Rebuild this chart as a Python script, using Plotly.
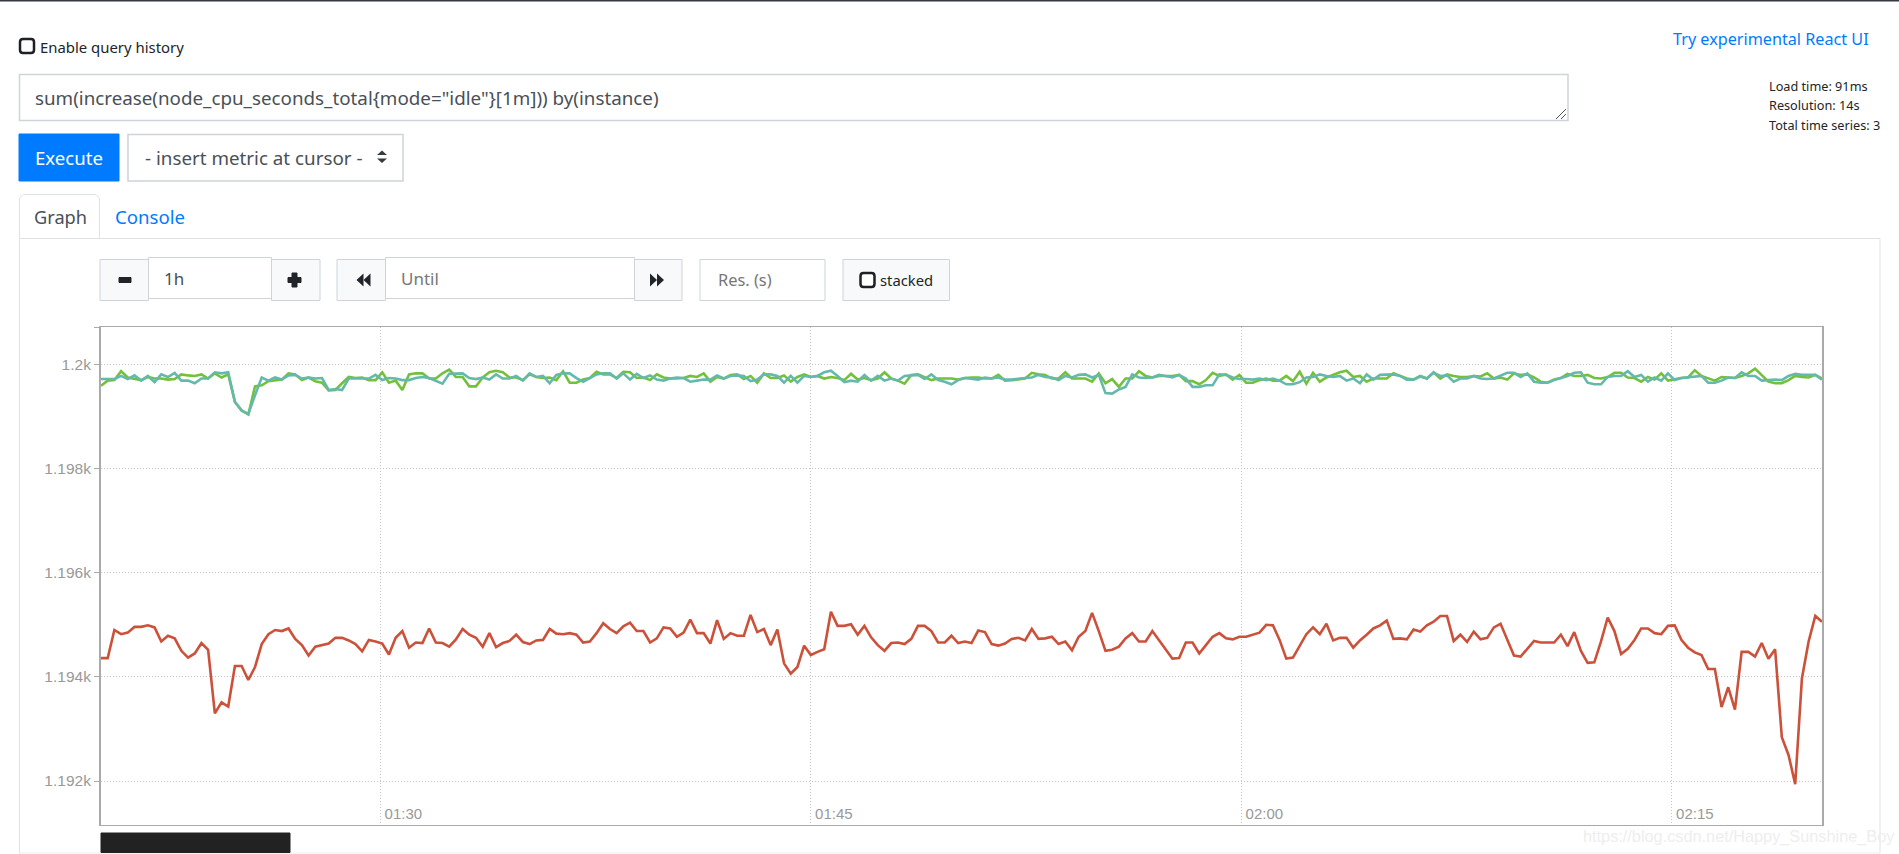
"""Prometheus graph page: sum(increase(node_cpu_seconds_total)) by instance."""

import pandas as pd
import plotly.graph_objects as go

WIDTH = 1899
HEIGHT = 854
UI_FONT = "Noto Sans"
AXIS_FONT = "Liberation Sans"

series_start = "2020-01-01 01:20:16"
step_seconds = 14

red_values = [
    1194.36, 1194.36, 1194.90, 1194.82, 1194.85, 1194.96, 1194.96, 1194.99, 1194.95, 1194.68,
    1194.79, 1194.74, 1194.50, 1194.37, 1194.45, 1194.65, 1194.52, 1193.30, 1193.51, 1193.43,
    1194.21, 1194.21, 1193.94, 1194.19, 1194.63, 1194.82, 1194.90, 1194.88, 1194.93, 1194.73,
    1194.61, 1194.41, 1194.58, 1194.61, 1194.64, 1194.75, 1194.75, 1194.70, 1194.63, 1194.49,
    1194.71, 1194.68, 1194.64, 1194.43, 1194.75, 1194.88, 1194.56, 1194.66, 1194.65, 1194.93,
    1194.66, 1194.65, 1194.58, 1194.72, 1194.92, 1194.81, 1194.75, 1194.58, 1194.84, 1194.57,
    1194.65, 1194.69, 1194.81, 1194.67, 1194.63, 1194.70, 1194.71, 1194.92, 1194.83,
    1194.82, 1194.84, 1194.81, 1194.66, 1194.68, 1194.84, 1195.03, 1194.92, 1194.84, 1194.97,
    1195.04, 1194.88, 1194.88, 1194.66, 1194.74, 1194.95, 1194.93, 1194.77, 1194.85, 1195.10,
    1194.84, 1194.84, 1194.64, 1195.09, 1194.73, 1194.84, 1194.79, 1194.79, 1195.19, 1194.86,
    1194.92, 1194.61, 1194.91, 1194.26, 1194.06, 1194.19, 1194.60, 1194.42, 1194.48, 1194.53,
    1195.25, 1194.98, 1194.98, 1195.01, 1194.81, 1194.98, 1194.76, 1194.61, 1194.50, 1194.65,
    1194.66, 1194.63, 1194.73, 1194.98, 1194.98, 1194.88, 1194.66, 1194.66, 1194.79, 1194.65,
    1194.68, 1194.65, 1194.89, 1194.86, 1194.63, 1194.60, 1194.64, 1194.73, 1194.75, 1194.70,
    1194.92, 1194.73,
    1194.74, 1194.77, 1194.63, 1194.68, 1194.51, 1194.77, 1194.88, 1195.23, 1194.88, 1194.50,
    1194.52, 1194.58, 1194.74, 1194.84, 1194.68, 1194.68, 1194.88, 1194.71, 1194.53, 1194.35,
    1194.36, 1194.66, 1194.66, 1194.45, 1194.61, 1194.77, 1194.84, 1194.74, 1194.72, 1194.77,
    1194.77, 1194.81, 1194.85, 1195.00, 1194.99, 1194.71, 1194.35, 1194.37, 1194.59, 1194.82,
    1194.95, 1194.82, 1195.02, 1194.70, 1194.75, 1194.75, 1194.56, 1194.70, 1194.81, 1194.93,
    1194.99, 1195.08, 1194.73, 1194.74, 1194.72, 1194.91, 1194.87, 1194.99, 1195.06, 1195.17,
    1195.17, 1194.69, 1194.81, 1194.67, 1194.87, 1194.72, 1194.75, 1194.95, 1195.02,
    1194.70, 1194.41, 1194.39, 1194.55, 1194.69, 1194.66, 1194.66, 1194.66, 1194.81, 1194.59,
    1194.86, 1194.50, 1194.27, 1194.28, 1194.68, 1195.14, 1194.88, 1194.44, 1194.54, 1194.71,
    1194.93, 1194.93, 1194.84, 1194.82, 1194.98, 1194.99, 1194.71, 1194.56, 1194.47, 1194.42,
    1194.15, 1194.15, 1193.42, 1193.80, 1193.37, 1194.48, 1194.48, 1194.39, 1194.65, 1194.35,
    1194.53, 1192.84, 1192.50, 1191.94, 1193.97, 1194.68, 1195.17, 1195.06,
]

green_values = [
    1199.59, 1199.69, 1199.70, 1199.87, 1199.75, 1199.72, 1199.70, 1199.76, 1199.73, 1199.73,
    1199.71, 1199.72, 1199.81, 1199.79, 1199.78, 1199.81, 1199.73, 1199.83, 1199.75, 1199.81,
    1199.28, 1199.12, 1199.04, 1199.58, 1199.60, 1199.68, 1199.69, 1199.71, 1199.83, 1199.81,
    1199.70, 1199.75, 1199.68, 1199.65, 1199.50, 1199.51, 1199.64, 1199.76, 1199.74, 1199.75,
    1199.70, 1199.70, 1199.85, 1199.65, 1199.69, 1199.51, 1199.81, 1199.83, 1199.83, 1199.73,
    1199.73, 1199.83, 1199.90, 1199.76, 1199.76, 1199.58, 1199.58, 1199.75, 1199.85, 1199.88,
    1199.85, 1199.75, 1199.75, 1199.70, 1199.81, 1199.76, 1199.74, 1199.75, 1199.70,
    1199.87, 1199.65, 1199.65, 1199.71, 1199.74, 1199.86, 1199.81, 1199.81, 1199.74, 1199.86,
    1199.85, 1199.74, 1199.75, 1199.70, 1199.81, 1199.75, 1199.73, 1199.73, 1199.74, 1199.78,
    1199.76, 1199.83, 1199.67, 1199.76, 1199.73, 1199.80, 1199.81, 1199.72, 1199.78, 1199.65,
    1199.83, 1199.74, 1199.74, 1199.79, 1199.67, 1199.76, 1199.81, 1199.76, 1199.78, 1199.73,
    1199.76, 1199.74, 1199.70, 1199.82, 1199.71, 1199.74, 1199.70, 1199.73, 1199.85, 1199.73,
    1199.69, 1199.63, 1199.80, 1199.81, 1199.75, 1199.70, 1199.73, 1199.73, 1199.73, 1199.71,
    1199.74, 1199.75, 1199.75, 1199.73, 1199.73, 1199.80, 1199.69, 1199.70, 1199.71, 1199.73,
    1199.84, 1199.81,
    1199.80, 1199.73, 1199.73, 1199.85, 1199.73, 1199.73, 1199.73, 1199.67, 1199.83, 1199.64,
    1199.72, 1199.57, 1199.73, 1199.73, 1199.87, 1199.78, 1199.75, 1199.78, 1199.78, 1199.78,
    1199.80, 1199.68, 1199.68, 1199.62, 1199.70, 1199.84, 1199.78, 1199.81, 1199.71, 1199.80,
    1199.65, 1199.65, 1199.70, 1199.73, 1199.69, 1199.69, 1199.78, 1199.68, 1199.86, 1199.63,
    1199.84, 1199.67, 1199.75, 1199.80, 1199.85, 1199.88, 1199.76, 1199.78, 1199.67, 1199.73,
    1199.73, 1199.73, 1199.83, 1199.78, 1199.73, 1199.71, 1199.78, 1199.73, 1199.85, 1199.73,
    1199.81, 1199.78, 1199.76, 1199.76, 1199.78, 1199.77, 1199.83, 1199.73, 1199.75,
    1199.71, 1199.83, 1199.80, 1199.81, 1199.75, 1199.67, 1199.65, 1199.71, 1199.74, 1199.82,
    1199.78, 1199.78, 1199.80, 1199.74, 1199.73, 1199.76, 1199.84, 1199.84, 1199.75, 1199.74,
    1199.67, 1199.76, 1199.71, 1199.83, 1199.69, 1199.72, 1199.74, 1199.75, 1199.89, 1199.78,
    1199.73, 1199.69, 1199.76, 1199.75, 1199.74, 1199.78, 1199.83, 1199.92, 1199.80, 1199.67,
    1199.64, 1199.64, 1199.70, 1199.78, 1199.76, 1199.75, 1199.80, 1199.73,
]

teal_values = [
    1199.72, 1199.72, 1199.72, 1199.78, 1199.72, 1199.79, 1199.69, 1199.78, 1199.66, 1199.81,
    1199.76, 1199.84, 1199.69, 1199.69, 1199.64, 1199.73, 1199.73, 1199.85, 1199.83, 1199.85,
    1199.28, 1199.11, 1199.05, 1199.41, 1199.75, 1199.69, 1199.75, 1199.71, 1199.79, 1199.80,
    1199.73, 1199.75, 1199.73, 1199.74, 1199.51, 1199.53, 1199.51, 1199.73, 1199.73, 1199.73,
    1199.73, 1199.80, 1199.70, 1199.74, 1199.73, 1199.70, 1199.70, 1199.74, 1199.76, 1199.74,
    1199.68, 1199.63, 1199.82, 1199.83, 1199.83, 1199.74, 1199.72, 1199.75, 1199.71, 1199.81,
    1199.73, 1199.73, 1199.78, 1199.69, 1199.83, 1199.76, 1199.78, 1199.64, 1199.80,
    1199.83, 1199.83, 1199.74, 1199.67, 1199.74, 1199.81, 1199.83, 1199.83, 1199.73, 1199.83,
    1199.71, 1199.82, 1199.74, 1199.79, 1199.71, 1199.69, 1199.73, 1199.75, 1199.74, 1199.67,
    1199.69, 1199.71, 1199.71, 1199.79, 1199.73, 1199.78, 1199.79, 1199.78, 1199.68, 1199.71,
    1199.81, 1199.81, 1199.78, 1199.65, 1199.78, 1199.65, 1199.78, 1199.76, 1199.78, 1199.85,
    1199.88, 1199.78, 1199.66, 1199.69, 1199.67, 1199.80, 1199.69, 1199.78, 1199.69, 1199.73,
    1199.69, 1199.78, 1199.79, 1199.80, 1199.72, 1199.81, 1199.70, 1199.67, 1199.62, 1199.70,
    1199.74, 1199.72, 1199.71, 1199.75, 1199.73, 1199.75, 1199.71, 1199.71, 1199.73, 1199.74,
    1199.75, 1199.80,
    1199.76, 1199.75, 1199.70, 1199.78, 1199.75, 1199.80, 1199.81, 1199.75, 1199.80, 1199.45,
    1199.44, 1199.52, 1199.57, 1199.81, 1199.75, 1199.74, 1199.75, 1199.80, 1199.78, 1199.75,
    1199.80, 1199.73, 1199.57, 1199.57, 1199.60, 1199.60, 1199.81, 1199.80, 1199.75, 1199.72,
    1199.72, 1199.71, 1199.73, 1199.70, 1199.73, 1199.69, 1199.62, 1199.62, 1199.66, 1199.75,
    1199.76, 1199.81, 1199.78, 1199.76, 1199.78, 1199.69, 1199.73, 1199.64, 1199.81, 1199.71,
    1199.80, 1199.80, 1199.81, 1199.78, 1199.71, 1199.71, 1199.77, 1199.73, 1199.84, 1199.78,
    1199.79, 1199.67, 1199.73, 1199.73, 1199.78, 1199.73, 1199.72, 1199.73, 1199.79,
    1199.84, 1199.84, 1199.76, 1199.83, 1199.67, 1199.65, 1199.65, 1199.70, 1199.74, 1199.78,
    1199.84, 1199.85, 1199.65, 1199.62, 1199.62, 1199.76, 1199.78, 1199.78, 1199.87, 1199.76,
    1199.80, 1199.67, 1199.75, 1199.69, 1199.83, 1199.70, 1199.74, 1199.75, 1199.76, 1199.78,
    1199.65, 1199.65, 1199.69, 1199.75, 1199.74, 1199.85, 1199.78, 1199.78, 1199.69, 1199.70,
    1199.71, 1199.70, 1199.78, 1199.82, 1199.80, 1199.80, 1199.80, 1199.71,
]

y_range = [1191.155, 1200.72]
y_ticks = [1191.155, 1192, 1194, 1196, 1198, 1200, 1200.72]
y_tick_labels = ["", "1.192k", "1.194k", "1.196k", "1.198k", "1.2k", ""]
x_ticks = ["2020-01-01 01:30", "2020-01-01 01:45", "2020-01-01 02:00", "2020-01-01 02:15"]

times = pd.date_range(series_start, periods=len(red_values), freq=f"{step_seconds}s")

shapes = []
notes = []


def px(x):
    return x / WIDTH


def py(y):
    return 1 - y / HEIGHT


def rect(x0, y0, x1, y1, fill="#fff", line="#ced4da", width=1):
    shapes.append({
        "type": "rect", "xref": "paper", "yref": "paper", "layer": "below",
        "x0": px(x0), "x1": px(x1), "y0": py(y0), "y1": py(y1),
        "fillcolor": fill, "line": {"color": line, "width": width},
    })


def hline(x0, x1, y, color="#dee2e6", width=1):
    shapes.append({
        "type": "line", "xref": "paper", "yref": "paper", "layer": "below",
        "x0": px(x0), "x1": px(x1), "y0": py(y), "y1": py(y),
        "line": {"color": color, "width": width},
    })


def vline(x, y0, y1, color="#dee2e6", width=1):
    shapes.append({
        "type": "line", "xref": "paper", "yref": "paper", "layer": "below",
        "x0": px(x), "x1": px(x), "y0": py(y0), "y1": py(y1),
        "line": {"color": color, "width": width},
    })


def poly(points, fill="#212529", line=None, width=1, closed=True):
    path = "M " + " L ".join(f"{px(x):.5f},{py(y):.5f}" for x, y in points) + (" Z" if closed else "")
    shapes.append({
        "type": "path", "xref": "paper", "yref": "paper", "layer": "below", "path": path,
        "fillcolor": fill if closed else "rgba(0,0,0,0)",
        "line": {"color": line or fill, "width": width if (line or not closed) else 0},
    })


def checkbox(x0, y0, size=14):
    # small rounded box, same glyph as the browser's unticked checkbox
    x1, y1 = x0 + size, y0 + size
    r = 3
    path = (
        f"M {px(x0 + r)},{py(y0)} L {px(x1 - r)},{py(y0)} Q {px(x1)},{py(y0)} {px(x1)},{py(y0 + r)} "
        f"L {px(x1)},{py(y1 - r)} Q {px(x1)},{py(y1)} {px(x1 - r)},{py(y1)} "
        f"L {px(x0 + r)},{py(y1)} Q {px(x0)},{py(y1)} {px(x0)},{py(y1 - r)} "
        f"L {px(x0)},{py(y0 + r)} Q {px(x0)},{py(y0)} {px(x0 + r)},{py(y0)} Z"
    )
    shapes.append({
        "type": "path", "xref": "paper", "yref": "paper", "layer": "below", "path": path,
        "fillcolor": "#fff", "line": {"color": "#1d2125", "width": 2.5},
    })


def label(x, y, text, size, color="#212529", anchor="left", font=UI_FONT):
    notes.append({
        "x": px(x), "y": py(y), "xref": "paper", "yref": "paper", "text": text,
        "showarrow": False, "xanchor": anchor, "yanchor": "middle", "borderpad": 0,
        "font": {"family": font, "size": size, "color": color},
    })


# page chrome
hline(0, WIDTH, 0.5, color="#343a40", width=2)
checkbox(20, 39)
label(39, 47, "Enable query history", 14.9)
label(1870, 39, "Try experimental React UI", 16.2, color="#007bff", anchor="right")
label(1768, 86, "Load time: 91ms", 12.7)
label(1768, 105.5, "Resolution: 14s", 12.7)
label(1768, 125, "Total time series: 3", 12.7)

# query box
rect(19.5, 74.5, 1568, 120.5, line="#ced4da", width=1.5)
label(34, 98, 'sum(increase(node_cpu_seconds_total{mode="idle"}[1m])) by(instance)', 18.8, color="#495057")
poly([(1556, 119), (1566, 109)], fill="#555", closed=False)
poly([(1561, 119), (1566, 114)], fill="#555", closed=False)

rect(19, 134, 119, 181, fill="#007bff", line="#007bff")
label(69, 157.5, "Execute", 18.6, color="#fff", anchor="center")
rect(128, 134.5, 403, 181, line="#ced4da", width=1.5)
label(144, 157.5, "- insert metric at cursor -", 18.8, color="#495057")
poly([(377, 155), (387, 155), (382, 150.5)], fill="#343a40")
poly([(377, 158.5), (387, 158.5), (382, 163)], fill="#343a40")

# tabs and graph panel
hline(99.5, 1880, 238.5)
vline(19.5, 238.5, 854)
vline(1880, 238.5, 853)
hline(19, 1880, 853, color="#eeeeee")
poly([(19.5, 238.5), (19.5, 198), (23.5, 194.5), (95.5, 194.5), (99.5, 198), (99.5, 238.5)], fill="#fff", line="#dee2e6")
label(33, 216.5, "Graph", 18.2, color="#495057")
label(114, 216.5, "Console", 18.6, color="#007bff")

# range controls
rect(100, 259.5, 148.5, 300.5, fill="#f8f9fa")
rect(148.5, 257.5, 271.5, 298.5)
rect(271.5, 259.5, 320, 300.5, fill="#f8f9fa")
rect(337, 259.5, 385.5, 300.5, fill="#f8f9fa")
rect(385.5, 257.5, 634.5, 298.5)
rect(634.5, 259.5, 682, 300.5, fill="#f8f9fa")
rect(700, 259.5, 825, 300.5)
rect(843, 259.5, 949.5, 300.5, fill="#f8f9fa")
rect(119, 277.5, 131, 282.5, fill="#212529", line="#212529")
rect(288, 277.5, 301, 282.5, fill="#212529", line="#212529")
rect(292, 273, 297, 287, fill="#212529", line="#212529")
poly([(363.5, 273.5), (363.5, 286.5), (356.5, 280)])
poly([(370.5, 273.5), (370.5, 286.5), (363.5, 280)])
poly([(650, 273.5), (650, 286.5), (657, 280)])
poly([(657, 273.5), (657, 286.5), (664, 280)])
label(163, 278.5, "1h", 17, color="#495057")
label(400, 278.5, "Until", 17, color="#777")
label(717, 280, "Res. (s)", 16.4, color="#777")
checkbox(860.5, 273)
label(879, 279.5, "stacked", 14.8)

# redacted legend strip and watermark
rect(101, 833, 290, 852.5, fill="#222", line="#222")
label(1896, 836, "https://blog.csdn.net/Happy_Sunshine_Boy", 16.3, color="#eeeeee", anchor="right", font=AXIS_FONT)

fig = go.Figure()
fig.add_trace(go.Scatter(x=times, y=red_values, mode="lines", line={"color": "#cb513a", "width": 2.6}))
fig.add_trace(go.Scatter(x=times, y=green_values, mode="lines", line={"color": "#73c03a", "width": 2.6}))
fig.add_trace(go.Scatter(x=times, y=teal_values, mode="lines", line={"color": "#65b9ac", "width": 2.6}))

fig.update_layout(
    width=WIDTH,
    height=HEIGHT,
    margin={"l": 0, "r": 0, "t": 0, "b": 0, "pad": 0},
    paper_bgcolor="#fff",
    plot_bgcolor="rgba(0,0,0,0)",
    showlegend=False,
    shapes=shapes,
    annotations=notes,
    xaxis={
        "domain": [px(101), px(1822)],
        "range": [times[0], times[-1]],
        "tickmode": "array",
        "tickvals": x_ticks,
        "tickformat": "%H:%M",
        "ticks": "",
        "ticklabelposition": "inside",
        "ticklabelshift": 23,
        "ticklabelstandoff": 3,
        "tickfont": {"family": AXIS_FONT, "size": 15, "color": "#999"},
        "showgrid": True,
        "gridcolor": "#c4c4c4",
        "griddash": "1px,2px",
        "gridwidth": 1,
        "showline": True,
        "mirror": True,
        "linecolor": "#aaa",
        "linewidth": 1,
        "zeroline": False,
    },
    yaxis={
        "domain": [py(825), py(327)],
        "range": y_range,
        "tickmode": "array",
        "tickvals": y_ticks,
        "ticktext": y_tick_labels,
        "ticks": "outside",
        "ticklen": 5,
        "tickcolor": "#aaa",
        "tickfont": {"family": AXIS_FONT, "size": 15.5, "color": "#999"},
        "showgrid": True,
        "gridcolor": "#c4c4c4",
        "griddash": "1px,2px",
        "gridwidth": 1,
        "showline": True,
        "mirror": True,
        "linecolor": "#aaa",
        "linewidth": 2,
        "zeroline": False,
    },
)

# the page's default 8px body margin would push everything off the window
fig.write_html(
    "out.html",
    config={"displayModeBar": False},
    post_script="document.body.style.margin = '0';",
)
